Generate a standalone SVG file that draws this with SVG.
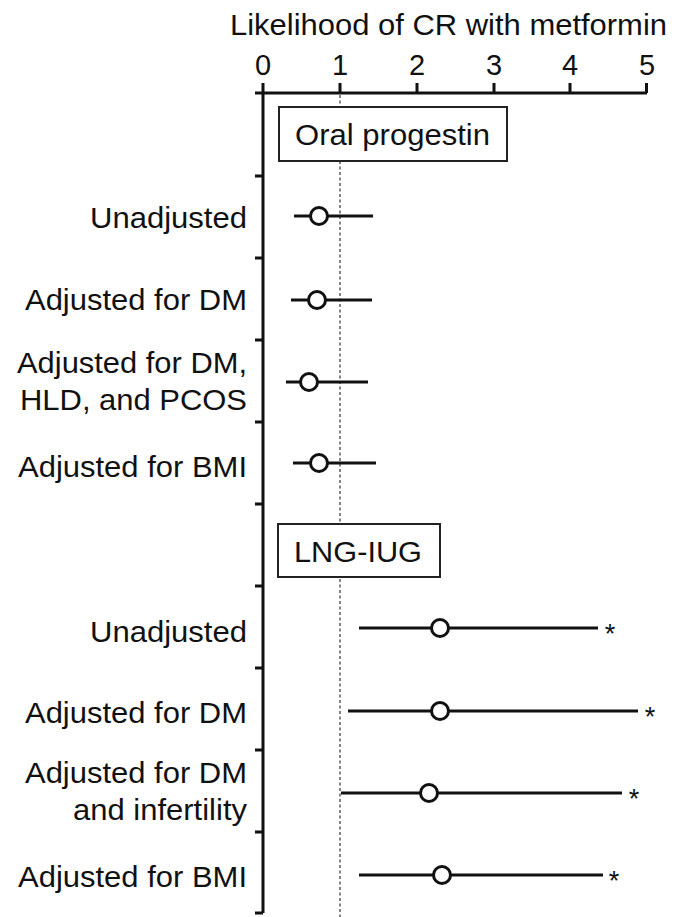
<svg xmlns="http://www.w3.org/2000/svg" width="675" height="917" viewBox="0 0 675 917">
<style>
text{font-family:"Liberation Sans",Arial,sans-serif;font-size:29px;fill:#111}
.ax{stroke:#111;stroke-width:3;fill:none}
.ci{stroke:#111;stroke-width:3;fill:none}
.pt{stroke:#111;stroke-width:3;fill:#fff}
.box{stroke:#222;stroke-width:2;fill:#fff}
.star{font-size:27px}
.lbl{text-anchor:end}
</style>
<rect width="675" height="917" fill="#fff"/>
<g id="axes">
<text x="230" y="35" textLength="437" lengthAdjust="spacingAndGlyphs">Likelihood of CR with metformin</text>
<g text-anchor="middle">
<text x="263" y="75">0</text>
<text x="340" y="75">1</text>
<text x="417" y="75">2</text>
<text x="494" y="75">3</text>
<text x="570" y="75">4</text>
<text x="647" y="75">5</text>
</g>
<path class="ax" d="M255 93H647M263 83V913M340 83V93M417 83V93M494 83V93M570 83V93M646.5 83V93"/>
<path class="ax" d="M255 176H263M255 258H263M255 340H263M255 422H263M255 504H263M255 586H263M255 668H263M255 750H263M255 832H263M255 913H263"/>
<line x1="340" y1="95" x2="340" y2="917" stroke="#333" stroke-width="1.2" stroke-dasharray="3 2.5"/>
</g>
<g id="box-oral">
<rect class="box" x="279" y="107" width="228" height="54"/>
<text x="295" y="145" textLength="195" lengthAdjust="spacingAndGlyphs">Oral progestin</text>
</g>
<g id="box-lng">
<rect class="box" x="278" y="524" width="162" height="53"/>
<text x="294" y="562" textLength="128" lengthAdjust="spacingAndGlyphs">LNG-IUG</text>
</g>
<g id="labels" class="lbl">
<text class="lbl" x="247" y="228" textLength="157" lengthAdjust="spacingAndGlyphs">Unadjusted</text>
<text class="lbl" x="247" y="310" textLength="222" lengthAdjust="spacingAndGlyphs">Adjusted for DM</text>
<text class="lbl" x="247" y="373" textLength="230" lengthAdjust="spacingAndGlyphs">Adjusted for DM,</text>
<text class="lbl" x="247" y="410" textLength="227" lengthAdjust="spacingAndGlyphs">HLD, and PCOS</text>
<text class="lbl" x="247" y="477" textLength="229" lengthAdjust="spacingAndGlyphs">Adjusted for BMI</text>
<text class="lbl" x="247" y="642" textLength="157" lengthAdjust="spacingAndGlyphs">Unadjusted</text>
<text class="lbl" x="247" y="723" textLength="222" lengthAdjust="spacingAndGlyphs">Adjusted for DM</text>
<text class="lbl" x="247" y="783" textLength="222" lengthAdjust="spacingAndGlyphs">Adjusted for DM</text>
<text class="lbl" x="247" y="820" textLength="174" lengthAdjust="spacingAndGlyphs">and infertility</text>
<text class="lbl" x="247" y="887" textLength="229" lengthAdjust="spacingAndGlyphs">Adjusted for BMI</text>
</g>
<g id="oral-unadj"><line class="ci" x1="294" y1="216" x2="373" y2="216"/><circle class="pt" cx="319" cy="216" r="8.5"/></g>
<g id="oral-dm"><line class="ci" x1="291" y1="300" x2="372" y2="300"/><circle class="pt" cx="317" cy="300" r="8.5"/></g>
<g id="oral-dm-hld-pcos"><line class="ci" x1="286" y1="382" x2="368" y2="382"/><circle class="pt" cx="309" cy="382" r="8.5"/></g>
<g id="oral-bmi"><line class="ci" x1="293" y1="463" x2="376" y2="463"/><circle class="pt" cx="319" cy="463" r="8.5"/></g>
<g id="lng-unadj"><line class="ci" x1="359" y1="628" x2="598" y2="628"/><circle class="pt" cx="440" cy="628" r="8.5"/><text class="star" x="610" y="643" text-anchor="middle">*</text></g>
<g id="lng-dm"><line class="ci" x1="348" y1="711" x2="638" y2="711"/><circle class="pt" cx="440" cy="711" r="8.5"/><text class="star" x="650" y="726" text-anchor="middle">*</text></g>
<g id="lng-dm-infert"><line class="ci" x1="341" y1="793" x2="622" y2="793"/><circle class="pt" cx="429" cy="793" r="8.5"/><text class="star" x="634" y="808" text-anchor="middle">*</text></g>
<g id="lng-bmi"><line class="ci" x1="359" y1="875" x2="603" y2="875"/><circle class="pt" cx="442" cy="875" r="8.5"/><text class="star" x="614" y="890" text-anchor="middle">*</text></g>
</svg>
